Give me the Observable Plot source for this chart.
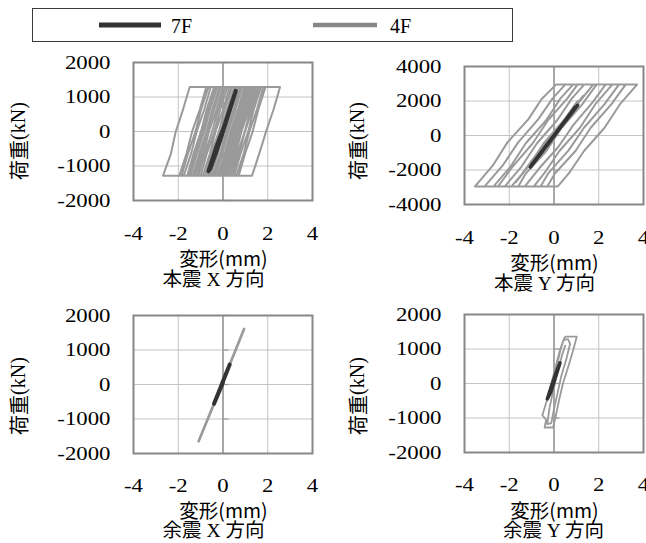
<!DOCTYPE html>
<html><head><meta charset="utf-8">
<script src="https://cdn.jsdelivr.net/npm/d3@7"></script>
<script src="https://cdn.jsdelivr.net/npm/@observablehq/plot@0.6"></script>
<style>
body{margin:0;background:#fff;}
#root{position:relative;width:646px;height:543px;overflow:hidden;background:#fff;}
.panel{position:absolute;}
.panel svg{max-width:none;}
</style></head><body><div id="root"></div>
<script>
// ---- labels / ticks ----
const xTicks = [-4, -2, 0, 2, 4];
const yTicksMain = [-2000, -1000, 0, 1000, 2000];
const yTicksWide = [-4000, -2000, 0, 2000, 4000];
const seriesNames = ["7F", "4F"];
const seriesColors = ["#333333", "#9a9a9a"];
const legendColors = ["#333333", "#888888"];
const xLabel = "変形(mm)";
const yLabelCJK = "荷重";
const yLabelUnit = "(kN)";
const panelTitles = [["本震", "X", "方向"], ["本震", "Y", "方向"], ["余震", "X", "方向"], ["余震", "Y", "方向"]];

// ---- data: [deformation mm, load kN] ----
const mainX_7F = [[0,0],[0.3,610],[0.57,1180],[0.25,520],[-0.1,-200],[-0.4,-750],[-0.65,-1150],[-0.3,-450],[0.05,150],[0.35,750],[0.52,1080],[0.15,300],[-0.25,-500],[-0.58,-1100],[-0.2,-330],[0.2,420],[0,0]];
const mainX_4F = [[0,0],[0.28,620],[0.55,1150],[0.22,450],[-0.18,-450],[-0.45,-1050],[-0.12,-320],[0.27,520],[0.62,1230],[0.72,1290],[1.05,1290],[0.77,660],[0.43,-20],[0.16,-640],[-0.15,-1280],[-0.55,-1280],[-0.23,-640],[0.03,10],[0.37,660],[0.66,1290],[1.3,1290],[0.98,640],[0.72,20],[0.39,-660],[0.1,-1280],[-0.9,-1280],[-0.58,-630],[-0.32,30],[0.02,670],[0.3,1290],[2.55,1290],[2.27,660],[1.93,10],[1.62,-640],[1.3,-1280],[-2.68,-1280],[-2.33,-650],[-2.12,-20],[-1.78,650],[-1.49,1290],[1.6,1290],[1.32,660],[0.98,-10],[0.71,-650],[0.4,-1280],[-1.95,-1280],[-1.63,-640],[-1.37,20],[-1.03,650],[-0.75,1290],[1.9,1290],[1.58,640],[1.32,-10],[0.98,-660],[0.7,-1280],[-1.6,-1280],[-1.32,-650],[-0.98,10],[-0.72,660],[-0.4,1290],[1.45,1290],[1.17,660],[0.83,10],[0.57,-640],[0.25,-1280],[-1.3,-1280],[-0.97,-640],[-0.72,0],[-0.38,660],[-0.1,1290],[1.7,1290],[1.38,650],[1.12,-20],[0.78,-650],[0.5,-1280],[-1.1,-1280],[-0.82,-660],[-0.48,10],[-0.22,640],[0.1,1290],[1.2,1290],[0.92,650],[0.58,0],[0.32,-660],[0,-1280],[-1.75,-1280],[-1.43,-650],[-1.17,10],[-0.83,650],[-0.55,1290],[1.35,1290],[1.03,660],[0.77,-10],[0.43,-650],[0.15,-1280],[-1.45,-1280],[-1.17,-640],[-0.83,10],[-0.57,660],[-0.25,1290],[0.95,1290],[0.67,640],[0.33,0],[0.07,-660],[-0.25,-1280],[-1.2,-1280],[-0.88,-650],[-0.62,20],[-0.28,650],[0,1290],[1.55,1290],[1.23,640],[0.97,-10],[0.63,-660],[0.35,-1280],[-0.8,-1280],[-0.52,-640],[-0.18,10],[0.08,660],[0.4,1290],[0.85,1290],[0.57,650],[0.23,0],[-0.03,-650],[-0.35,-1280],[-0.65,-1280],[-0.33,-640],[-0.07,10],[0.27,650],[0.55,1290],[1.0,1290],[0.72,650],[0.38,0],[0.12,-650],[-0.2,-1280],[-1.5,-1280],[-1.22,-650],[-0.88,0],[-0.62,650],[-0.3,1290],[1.1,1290],[0.82,650],[0.48,0],[0.22,-650],[-0.1,-1280],[-1.0,-1280],[-0.72,-640],[-0.38,0],[-0.12,650],[0.2,1290],[1.4,1290],[1.12,650],[0.78,0],[0.52,-650],[0.2,-1280],[-1.85,-1280],[-1.57,-650],[-1.23,0],[-0.97,650],[-0.65,1290],[1.15,1290],[0.87,650],[0.53,0],[0.27,-650],[-0.05,-1280],[-1.35,-1280],[-1.07,-650],[-0.73,0],[-0.47,650],[-0.15,1290],[0.75,1290],[0.47,650],[0.13,0],[-0.13,-650],[-0.45,-1280],[-1.55,-1280],[-1.27,-650],[-0.93,0],[-0.67,650],[-0.35,1290],[1.25,1290],[0.97,650],[0.63,0],[0.37,-650],[0.05,-1280],[-0.7,-1280],[-0.42,-650],[-0.08,0],[0.18,650],[0.5,1290],[1.8,1290],[1.52,650],[1.18,0],[0.92,-650],[0.6,-1280],[-0.4,-1280],[-0.12,-650],[0.22,0],[0.48,650],[0.8,1290],[1.15,1290],[0.87,640],[0.5,0],[0.2,-600],[-0.1,-1150],[0.2,-500],[0.55,300],[0.8,900],[0.4,0],[0,-900]];
const mainY_7F = [[0,0],[0.5,850],[1.05,1750],[0.4,650],[-0.3,-550],[-1.06,-1830],[-0.4,-700],[0.3,500],[0.95,1650],[0.2,350],[-0.5,-850],[-1.0,-1700],[0,0]];
const mainY_4F = [[0,0],[0.58,950],[1.1,1800],[0.42,700],[-0.26,-550],[-1.0,-1750],[-0.38,-650],[0.44,650],[1.16,2000],[1.75,2950],[2.3,2950],[1.74,1950],[0.86,600],[0.2,-650],[-0.66,-1900],[-1.3,-2950],[-2.2,-2950],[-1.45,-1800],[-0.76,-450],[0.15,900],[0.8,2150],[1.35,2950],[2.9,2950],[2.25,1800],[1.34,450],[0.66,-850],[-0.26,-2200],[-0.6,-2950],[-3.53,-2950],[-2.74,-1750],[-2.08,-400],[-1.14,950],[-0.56,2100],[0.09,2950],[3.71,2950],[2.94,1800],[2.26,450],[1.34,-900],[0.66,-2200],[0.17,-2950],[-2.7,-2950],[-1.94,-1800],[-1.26,-450],[-0.34,900],[0.29,2150],[0.85,2950],[3.2,2950],[2.56,1800],[1.64,450],[0.96,-900],[0.04,-2200],[-0.3,-2950],[-3.1,-2950],[-2.3,-1750],[-1.6,-400],[-0.7,950],[-0.06,2150],[0.5,2950],[2.6,2950],[1.84,1800],[1.16,450],[0.24,-900],[-0.44,-2200],[-0.9,-2950],[-2.5,-2950],[-1.85,-1800],[-0.95,-450],[-0.26,900],[0.6,2150],[1.05,2950],[1.9,2950],[1.26,1800],[0.34,450],[-0.34,-900],[-1.26,-2200],[-1.6,-2950],[-1.9,-2950],[-1.15,-1800],[-0.46,-450],[0.45,900],[1.05,2000],[0.45,900],[-0.3,-300],[-1.05,-1550],[-1.7,-2700],[-1.0,-1550],[-0.25,-300],[0.5,1000],[1.3,2300],[0.55,1050],[-0.25,-250]];
const afterX_7F = [[-0.06,0],[0.3,580],[-0.4,-560],[0.25,500],[-0.35,-480],[0,60]];
const afterX_4F = [[-0.06,0],[0.5,900],[0.94,1610],[0.3,580],[-0.5,-720],[-1.09,-1645],[-0.4,-550],[0.35,660],[0.75,1300],[0.1,250],[-0.7,-1040],[-0.2,-230]];
const afterY_7F = [[-0.06,0],[0.1,330],[0.27,600],[0.05,150],[-0.15,-260],[-0.3,-450],[-0.1,-50],[0.12,350],[0.25,560],[0,50],[-0.28,-420]];
const afterY_4F = [[-0.08,0],[0.12,500],[0.3,1000],[0.45,1300],[0.52,1360],[1.02,1360],[0.85,950],[0.62,450],[0.4,0],[0.22,-500],[0.06,-1000],[-0.04,-1276],[-0.42,-1276],[-0.35,-1050],[-0.52,-920],[-0.3,-450],[-0.12,0],[0.08,500],[0.28,1000],[0.42,1250],[0.62,1290],[0.72,1150],[0.55,700],[0.32,200],[0.15,-300],[-0.02,-800],[-0.12,-1150],[-0.3,-1180],[-0.2,-700],[-0.03,-200],[0.15,300],[0.35,800],[0.5,1100]];

// ---- layout ----
const panels = [
  {left:0,   top:45,  w:323, h:255, m:[17,11,100,133], yDom:[-2000,2000], yT:yTicksMain, d7:mainX_7F,  d4:mainX_4F,  sw7:4,   sw4:2.0, title:0, ylx:17.5, yly:141, dx2:-9, xpad:25.5, l1:65.5, l2:86},
  {left:323, top:45,  w:323, h:255, m:[21,3,96,141],  yDom:[-4000,4000], yT:yTicksWide, d7:mainY_7F,  d4:mainY_4F,  sw7:3.5, sw4:2.0, title:1, ylx:357, yly:141, dx2:-9, xpad:25.5, l1:65.5, l2:86},
  {left:0,   top:300, w:323, h:243, m:[15,11,90,133], yDom:[-2000,2000], yT:yTicksMain, d7:afterX_7F, d4:afterX_4F, sw7:4,   sw4:2.6, title:2, ylx:17.5, yly:396, dx2:-9, xpad:24.5, l1:65, l2:84},
  {left:323, top:300, w:323, h:243, m:[14,3,91,141],  yDom:[-2000,2000], yT:yTicksMain, d7:afterY_7F, d4:afterY_4F, sw7:3.5, sw4:1.8, title:3, ylx:357, yly:396, dx2:0, xpad:24.5, l1:66, l2:85}
];

const root = document.getElementById("root");
const fmt = d => String(d);

// legend
const leg = d3.select(root).append("svg").attr("class","panel").style("left","0px").style("top","0px")
  .attr("width",646).attr("height",45);
leg.append("rect").attr("x",32.5).attr("y",8.5).attr("width",480).attr("height",33).attr("fill","#fff").attr("stroke","#3a3a3a").attr("stroke-width",1);
const legX = [[99,161,171],[313,377,390]];
seriesNames.forEach((n,i)=>{
  leg.append("line").attr("x1",legX[i][0]).attr("x2",legX[i][1]).attr("y1",25).attr("y2",25)
    .attr("stroke",legendColors[i]).attr("stroke-width",i===0?5:4.5);
  leg.append("text").attr("x",legX[i][2]).attr("y",32.5).text(n)
    .attr("font-family","'Liberation Serif', serif").attr("font-size",20).attr("fill","#000");
});

panels.forEach(p => {
  const [mt, mr, mb, ml] = p.m;
  const chart = Plot.plot({
    width: p.w, height: p.h,
    marginTop: mt, marginRight: mr, marginBottom: mb, marginLeft: ml,
    style: {fontFamily: "'Liberation Serif', serif", fontSize: "19px", color: "#000", background: "#fff"},
    x: {domain: [-4, 4]},
    y: {domain: p.yDom},
    marks: [
      Plot.gridX(xTicks, {stroke: "#c3c3c3", strokeOpacity: 1, strokeWidth: 1}),
      Plot.gridY(p.yT, {stroke: "#c3c3c3", strokeOpacity: 1, strokeWidth: 1}),
      Plot.ruleX([0], {stroke: "#9a9a9a", strokeWidth: 1.6}),
      Plot.ruleY(p.yT, {x1: 0, x2: 0, insetRight: -6, stroke: "#9a9a9a", strokeWidth: 1.2}),
      Plot.line(p.d4, {x: d => d[0], y: d => d[1], stroke: seriesColors[1], strokeWidth: p.sw4, strokeLinejoin: "round"}),
      Plot.line(p.d7, {x: d => d[0], y: d => d[1], stroke: seriesColors[0], strokeWidth: p.sw7, strokeLinejoin: "round", strokeLinecap: "round"}),
      Plot.frame({stroke: "#878787", strokeWidth: 2}),
      Plot.axisX(xTicks, {tickSize: 0, tickPadding: p.xpad, label: null, tickFormat: fmt}),
      Plot.axisY(p.yT, {tickSize: 0, tickPadding: 23, label: null, tickFormat: fmt})
    ]
  });
  const div = document.createElement("div");
  div.className = "panel";
  div.style.left = p.left + "px"; div.style.top = p.top + "px";
  div.style.width = p.w + "px"; div.style.height = p.h + "px";
  div.appendChild(chart);
  root.appendChild(div);

  const svg = d3.select(chart);
  const cx = ml + (p.w - ml - mr) / 2;
  const fb = p.h - mb;
  // y-axis title
  const yt = svg.append("text")
    .attr("transform", `translate(${p.ylx - p.left},${p.yly - p.top}) rotate(-90)`)
    .attr("text-anchor","middle").attr("dominant-baseline","central")
    .attr("font-family","'Noto Sans CJK JP', sans-serif").attr("font-size",20).attr("fill","#000");
  yt.append("tspan").text(yLabelCJK);
  yt.append("tspan").attr("font-family","'Liberation Serif', serif").text(yLabelUnit);
  // x-axis title line 1
  svg.append("text").attr("x", cx + 1).attr("y", fb + p.l1)
    .attr("text-anchor","middle")
    .attr("font-family","'Noto Sans CJK JP', sans-serif").attr("font-size",19.5).attr("fill","#000")
    .text(xLabel);
  // panel title line 2
  const t = panelTitles[p.title];
  const tt = svg.append("text").attr("x", cx + p.dx2).attr("y", fb + p.l2)
    .attr("text-anchor","middle")
    .attr("font-family","'Noto Sans CJK JP', sans-serif").attr("font-size",19.5).attr("fill","#000");
  tt.append("tspan").text(t[0]);
  tt.append("tspan").attr("font-family","'Liberation Serif', serif").text(" " + t[1] + " ");
  tt.append("tspan").text(t[2]);
});

// horizontally widen tick labels like the reference
document.querySelectorAll('#root g[aria-label="x-axis tick label"] text, #root g[aria-label="y-axis tick label"] text').forEach(el => {
  const w = el.getComputedTextLength();
  if (w > 0) {
    el.setAttribute("textLength", (w * 1.2).toFixed(1));
    el.setAttribute("lengthAdjust", "spacingAndGlyphs");
  }
});
</script>
</body></html>
